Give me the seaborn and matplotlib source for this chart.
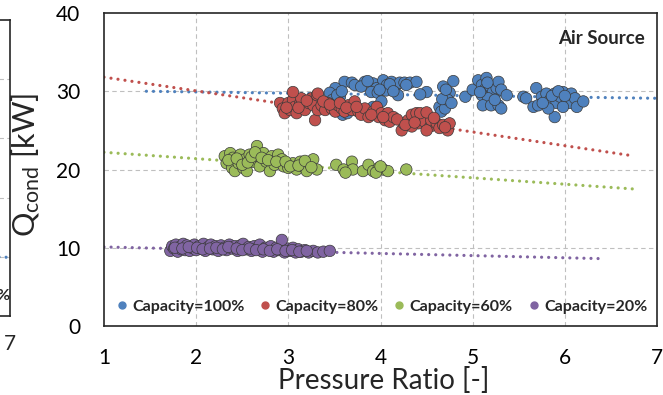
import matplotlib
matplotlib.use("Agg")
import matplotlib.pyplot as plt
import seaborn as sns
import pandas as pd
from matplotlib.lines import Line2D

# ---------------- data ----------------
series_names = ["Capacity=100%", "Capacity=80%", "Capacity=60%", "Capacity=20%"]
series_colors = ["#4F81BD", "#C0504D", "#9BBB59", "#8064A2"]

cap100_x = [3.61, 3.69, 3.72, 3.83, 3.92, 3.96, 3.90, 3.97, 4.03, 4.07, 4.12, 4.16, 4.19, 4.21,
            4.26, 4.32, 4.39, 4.50, 4.01, 3.92, 3.51, 3.45, 3.48, 3.56, 3.59, 3.64, 4.06,
            3.79, 3.86, 3.99, 4.10, 4.14, 3.53, 3.58,
            4.28, 4.43, 4.68, 4.64, 4.66, 4.70, 4.79, 4.75, 4.73, 4.67, 4.71, 4.77, 4.92,
            5.00, 5.06, 5.10, 5.15, 5.13, 5.19, 5.22, 5.26, 5.28, 5.31, 5.37, 5.10, 5.17,
            5.11, 5.20, 5.28, 5.31, 5.24, 5.08, 5.16, 5.55, 5.58, 5.69, 5.75, 5.66, 5.71,
            5.80, 5.84, 5.89, 5.91, 5.95, 5.98, 6.02, 6.07, 6.05, 6.11, 6.13, 6.20, 5.89,
            5.82, 5.98, 5.76, 5.86, 5.93, 6.00]
cap100_y = [31.2, 31.1, 30.8, 31.2, 31.0, 30.4, 29.9, 29.8, 31.4, 30.8, 31.2, 30.6, 29.5, 31.1,
            31.1, 31.1, 31.2, 29.9, 28.7, 28.0, 30.4, 29.8, 28.9, 29.3, 27.0, 27.2, 30.1,
            30.6, 31.3, 30.2, 30.9, 30.0, 29.5, 30.0,
            30.8, 29.6, 30.6, 28.0, 27.4, 27.8, 31.3, 29.8, 28.9, 29.0, 30.2, 28.5, 29.3,
            30.2, 31.4, 30.8, 31.7, 30.2, 30.6, 29.9, 30.4, 31.2, 30.2, 29.5, 29.5, 29.1,
            28.2, 28.2, 28.2, 27.8, 28.9, 29.9, 31.1, 29.3, 29.1, 30.4, 29.3, 28.0, 28.2,
            29.7, 28.9, 29.7, 28.5, 29.3, 29.9, 28.9, 29.7, 28.5, 29.1, 28.0, 28.7, 26.7,
            27.8, 28.0, 28.5, 29.4, 30.0, 29.4]

cap80_x = [2.91, 2.94, 2.96, 3.00, 3.02, 3.05, 3.07, 3.09, 3.13, 3.14, 3.18, 3.22, 3.25, 3.27,
           3.29, 3.31, 3.32, 3.36, 3.40, 3.43, 3.47, 3.51, 3.54, 3.58, 3.61, 3.65, 3.69, 3.72,
           3.76, 3.79, 3.83, 3.87, 3.92, 3.96, 3.98, 4.01, 4.05, 4.08, 4.10, 4.14, 4.23, 4.25,
           4.30, 4.34, 4.39, 4.45, 4.41, 4.48, 4.54, 4.55, 4.61, 4.64, 4.68, 4.73, 4.75, 4.50,
           4.34, 4.43, 4.50, 3.05, 3.32, 2.98, 3.11, 3.20, 3.38, 3.45, 3.56, 3.63, 3.74, 3.90,
           4.03, 4.18, 4.27, 4.37, 4.58, 4.70]
cap80_y = [28.5, 27.8, 27.2, 28.5, 27.6, 28.9, 28.0, 27.2, 28.5, 29.1, 27.6, 28.5, 29.1, 28.2,
           26.3, 29.5, 27.6, 28.2, 27.6, 28.5, 27.8, 27.4, 28.2, 27.8, 27.4, 28.2, 27.6, 28.7,
           27.4, 27.0, 27.8, 26.7, 27.4, 28.0, 26.7, 27.2, 26.3, 27.2, 26.1, 26.7, 25.0, 25.9,
           26.3, 27.0, 27.2, 26.7, 25.9, 26.1, 25.5, 26.3, 25.9, 25.3, 25.7, 25.0, 25.9, 25.0,
           25.5, 27.2, 27.3, 29.9, 29.7, 27.9, 27.9, 28.8, 28.7, 28.3, 28.5, 27.9, 28.0, 27.0,
           26.7, 26.4, 25.7, 26.0, 26.6, 25.4]

cap60_x = [2.31, 2.33, 2.37, 2.39, 2.40, 2.42, 2.46, 2.48, 2.51, 2.53, 2.58, 2.62, 2.66, 2.67,
           2.69, 2.73, 2.76, 2.80, 2.82, 2.85, 2.89, 2.93, 2.95, 3.00, 3.05, 3.09, 3.13, 3.16,
           3.20, 3.23, 3.27, 3.31, 3.52, 3.60, 3.69, 3.70, 3.81, 3.87, 3.92, 3.98, 4.03, 4.08,
           4.28, 2.55, 2.35, 2.44, 2.50, 2.56, 2.60, 2.64, 2.71, 2.78, 2.87, 2.97, 3.02, 3.11,
           3.18, 3.25, 3.62, 3.95, 4.00]
cap60_y = [21.7, 20.8, 22.1, 20.2, 21.5, 19.8, 20.8, 21.9, 20.2, 21.3, 21.9, 21.0, 23.0, 21.7,
           20.4, 22.1, 21.0, 19.8, 21.7, 20.6, 21.9, 21.3, 20.4, 20.2, 20.8, 20.0, 21.0, 20.4,
           19.8, 20.8, 21.3, 20.0, 20.6, 20.0, 21.0, 20.0, 19.8, 20.6, 19.8, 20.2, 20.0, 19.8,
           20.0, 19.8, 21.2, 21.4, 20.6, 20.9, 21.6, 22.2, 21.5, 21.2, 21.0, 21.0, 20.4, 20.5,
           21.1, 20.3, 19.6, 19.6, 20.4]

cap20_x = [1.72, 1.74, 1.76, 1.78, 1.80, 1.82, 1.84, 1.86, 1.88, 1.90, 1.93, 1.95, 1.98, 2.00,
           2.03, 2.05, 2.08, 2.10, 2.13, 2.16, 2.18, 2.21, 2.24, 2.27, 2.30, 2.33, 2.36, 2.39,
           2.42, 2.45, 2.48, 2.51, 2.54, 2.57, 2.60, 2.63, 2.66, 2.69, 2.72, 2.75, 2.78, 2.81,
           2.84, 2.87, 2.90, 2.93, 2.96, 2.99, 3.02, 3.05, 3.08, 3.11, 3.14, 3.18, 3.22, 3.27,
           3.32, 3.38, 3.45, 2.93,
           1.77, 1.85, 1.92, 2.01, 2.07, 2.15, 2.22, 2.29, 2.35, 2.44, 2.50, 2.58, 2.65, 2.73,
           2.80, 2.88, 2.97, 3.04, 3.12, 3.20]
cap20_y = [9.6, 10.2, 9.9, 10.4, 9.5, 10.1, 9.8, 10.5, 9.7, 10.3, 9.6, 10.0, 10.4, 9.7,
           10.2, 9.9, 10.5, 9.6, 10.1, 10.4, 9.8, 10.2, 9.6, 10.3, 10.0, 9.7, 10.4, 9.9,
           10.2, 9.6, 10.3, 10.5, 9.8, 10.1, 9.6, 10.2, 9.9, 10.4, 9.5, 10.0, 9.8, 10.2,
           9.5, 10.0, 9.7, 10.1, 9.4, 9.9, 9.6, 10.0, 9.4, 9.8, 9.5, 9.7, 9.4, 9.6,
           9.4, 9.5, 9.6, 11.0,
           10.0, 9.9, 10.1, 10.0, 9.8, 9.9, 10.0, 9.8, 10.1, 9.9, 9.7, 9.9, 9.7, 9.8,
           9.6, 9.8, 9.6, 9.7, 9.5, 9.6]

# linear trend lines (start/end)
trend_x0 = [1.46, 1.00, 1.00, 1.00]
trend_x1 = [7.00, 6.71, 6.76, 6.43]
trend_y0 = [30.0, 31.8, 22.2, 10.1]
trend_y1 = [29.1, 21.8, 17.5, 8.6]

x_ticks = [1, 2, 3, 4, 5, 6, 7]
y_ticks = [0, 10, 20, 30, 40]

# partial neighbouring panel at the left edge
left_trend_x = [6.6, 7.0]
left_trend_y = [10.0, 9.9]

# ---------------- style ----------------
sns.set_theme(style="white")
plt.rcParams["font.family"] = ["Lato", "DejaVu Sans"]
plt.rcParams["mathtext.fontset"] = "custom"
plt.rcParams["mathtext.rm"] = "Lato"

df = pd.concat([
    pd.DataFrame({"pr": cap100_x, "q": cap100_y, "series": series_names[0]}),
    pd.DataFrame({"pr": cap80_x, "q": cap80_y, "series": series_names[1]}),
    pd.DataFrame({"pr": cap60_x, "q": cap60_y, "series": series_names[2]}),
    pd.DataFrame({"pr": cap20_x, "q": cap20_y, "series": series_names[3]}),
], ignore_index=True)

fig = plt.figure(figsize=(6.63, 3.95), dpi=100)
ax = fig.add_axes([104 / 663, (395 - 326) / 395, 553 / 663, 313 / 395])

grid_kw = dict(color="#BFBFBF", linestyle=(0, (4, 3)), linewidth=0.8, zorder=0)
dot_style = (0, (0.01, 2.2))

# trend lines (dotted)
for i in range(4):
    ax.plot([trend_x0[i], trend_x1[i]], [trend_y0[i], trend_y1[i]],
            color=series_colors[i], linestyle=dot_style, linewidth=2.3,
            dash_capstyle="round", zorder=1)

sns.scatterplot(data=df, x="pr", y="q", hue="series", hue_order=series_names,
                palette=series_colors, s=68, edgecolor="#3A3A3A", linewidth=0.5,
                legend=False, ax=ax, zorder=2)

ax.set_xlim(1, 7)
ax.set_ylim(0, 40)
ax.set_xticks(x_ticks)
ax.set_yticks(y_ticks)
ax.set_xticklabels([str(t) for t in x_ticks])
ax.set_yticklabels([str(t) for t in y_ticks])
ax.tick_params(axis="both", length=0, labelsize=15, colors="#000000")
ax.tick_params(axis="x", pad=15.5)
ax.tick_params(axis="y", pad=17)
for t in x_ticks[1:-1]:
    ax.axvline(t, **grid_kw)
for t in y_ticks[1:-1]:
    ax.axhline(t, **grid_kw)
for sp in ax.spines.values():
    sp.set_color("#262626")
    sp.set_linewidth(1.2)

ax.set_xlabel("Pressure Ratio [-]", fontsize=20)
ax.xaxis.set_label_coords(0.506, -0.13)
ax.xaxis.label.set_va("top")
ax.set_ylabel(r"$\mathregular{Q_{cond}}$ [kW]", fontsize=22)
ax.yaxis.set_label_coords(-0.112, 0.515)

ax.text(0.978, 0.917, "Air Source", transform=ax.transAxes, ha="right", va="center",
        fontsize=13.5, fontweight="bold")

handles = [Line2D([0], [0], marker="o", linestyle="none", markersize=5,
                  markerfacecolor=c, markeredgecolor=c) for c in series_colors]
leg = ax.legend(handles, series_names, loc="center", bbox_to_anchor=(0.5, 0.061),
                ncol=4, frameon=False, handletextpad=0.15, columnspacing=0.8,
                handlelength=1.0, prop={"size": 11.5, "weight": "bold"}, borderaxespad=0)

# partial left panel
ax2 = fig.add_axes([-0.30, (395 - 316) / 395, 0.30 + 9.5 / 663, 296 / 395])
ax2.set_xlim(1, 7)
ax2.set_ylim(0, 50)
ax2.set_xticks([7])
ax2.set_yticks([])
ax2.tick_params(axis="x", length=0, labelsize=15, pad=13)
for t in [10, 20, 30, 40]:
    ax2.axhline(t, **grid_kw)
ax2.plot(left_trend_x, left_trend_y, color=series_colors[0], linestyle=dot_style,
         linewidth=2.3, dash_capstyle="round")
for sp in ax2.spines.values():
    sp.set_color("#262626")
    sp.set_linewidth(1.2)
ax2.text(0.999, 0.068, "%", transform=ax2.transAxes, ha="right", va="center",
         fontsize=11.5, fontweight="bold")

fig.savefig("out.png", dpi=100)
